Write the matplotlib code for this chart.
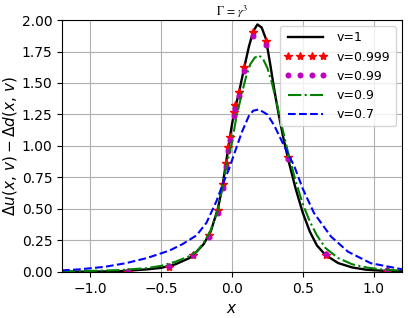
import matplotlib
matplotlib.use("Agg")
import matplotlib.pyplot as plt
from matplotlib.ticker import FormatStrFormatter

# v = 1 (solid black)
x_v1 = [-1.2, -1.0, -0.8, -0.6, -0.5, -0.4, -0.3, -0.25, -0.2, -0.15, -0.1, -0.07, -0.04, -0.02, 0.0,
        0.02, 0.04, 0.06, 0.09, 0.12, 0.15, 0.18, 0.21, 0.24, 0.27, 0.3, 0.33, 0.36, 0.4, 0.45, 0.5,
        0.55, 0.6, 0.66, 0.75, 0.85, 0.95, 1.05, 1.2]
y_v1 = [0.001, 0.002, 0.005, 0.02, 0.032, 0.06, 0.11, 0.16, 0.22, 0.32, 0.50, 0.66, 0.88, 1.03, 1.17,
        1.29, 1.38, 1.48, 1.64, 1.79, 1.91, 1.965, 1.94, 1.85, 1.65, 1.44, 1.25, 1.08, 0.88, 0.66, 0.47,
        0.32, 0.21, 0.135, 0.07, 0.035, 0.017, 0.01, 0.004]

# v = 0.999 (red stars) and v = 0.99 (magenta dots)
x_pts = [-0.733, -0.446, -0.275, -0.162, -0.098, -0.064, -0.043, -0.026, -0.014, 0.012, 0.025,
         0.053, 0.088, 0.147, 0.242, 0.396, 0.662, 1.096]
y_v0999 = [0.003, 0.042, 0.135, 0.294, 0.492, 0.70, 0.865, 0.99, 1.074, 1.27, 1.325,
           1.43, 1.63, 1.907, 1.837, 0.915, 0.135, 0.01]
y_v099 = [0.004, 0.045, 0.138, 0.28, 0.47, 0.67, 0.835, 0.96, 1.045, 1.235, 1.29,
          1.395, 1.595, 1.87, 1.80, 0.90, 0.14, 0.012]

# v = 0.9 (green dash-dot)
x_v09 = [-1.2, -1.0, -0.8, -0.6, -0.5, -0.4, -0.3, -0.25, -0.2, -0.15, -0.1, -0.07, -0.04, 0.0,
         0.03, 0.07, 0.1, 0.13, 0.16, 0.19, 0.22, 0.25, 0.28, 0.31, 0.35, 0.4, 0.45, 0.5, 0.55,
         0.6, 0.66, 0.75, 0.85, 0.95, 1.05, 1.2]
y_v09 = [0.005, 0.008, 0.014, 0.03, 0.048, 0.08, 0.125, 0.16, 0.23, 0.33, 0.49, 0.66, 0.84, 1.03,
         1.22, 1.42, 1.55, 1.65, 1.70, 1.72, 1.69, 1.62, 1.51, 1.37, 1.17, 0.93, 0.72, 0.54, 0.40,
         0.29, 0.19, 0.11, 0.06, 0.035, 0.02, 0.01]

# v = 0.7 (blue dashed)
x_v07 = [-1.2, -1.08, -0.9, -0.75, -0.6, -0.44, -0.35, -0.25, -0.18, -0.11, -0.06, -0.02, 0.02,
         0.07, 0.12, 0.15, 0.19, 0.25, 0.3, 0.36, 0.44, 0.5, 0.58, 0.7, 0.82, 0.98, 1.2]
y_v07 = [0.012, 0.02, 0.04, 0.069, 0.11, 0.17, 0.22, 0.29, 0.39, 0.56, 0.71, 0.82, 0.95,
         1.11, 1.24, 1.28, 1.29, 1.25, 1.16, 1.02, 0.84, 0.66, 0.466, 0.28, 0.16, 0.069, 0.021]

plt.rcParams['mathtext.fontset'] = 'dejavusans'

fig = plt.figure(figsize=(4.08, 3.18), dpi=100)
ax = fig.add_axes([0.152, 0.145, 0.833, 0.792])

ax.plot(x_v1, y_v1, color='k', lw=1.7, label='v=1')
ax.plot(x_pts, y_v0999, 'r*', ms=6, label='v=0.999')
ax.plot(x_pts, y_v099, 'mo', ms=3.3, label='v=0.99')
ax.plot(x_v09, y_v09, color='g', ls='-.', lw=1.5, label='v=0.9')
ax.plot(x_v07, y_v07, color='b', ls='--', lw=1.5, label='v=0.7')

ax.set_xlim(-1.2, 1.2)
ax.set_ylim(0, 2.0)
ax.set_yticks([0, 0.25, 0.5, 0.75, 1.0, 1.25, 1.5, 1.75, 2.0])
ax.yaxis.set_major_formatter(FormatStrFormatter('%.2f'))
ax.set_xticks([-1.0, -0.5, 0.0, 0.5, 1.0])
ax.tick_params(labelsize=10)
ax.grid(True, color='#b0b0b0', lw=0.8)

ax.set_xlabel(r'$x$', fontsize=11)
ax.set_ylabel(r'$\Delta u(x,\,v)-\Delta d(x,\,v)$', fontsize=11, labelpad=2)
ax.set_title(r'$\Gamma\,=\,\gamma^3$', fontsize=8.5, math_fontfamily='stix', pad=3)

ax.legend(loc='upper right', fontsize=9, numpoints=4, handlelength=3.4)

fig.savefig('out.png', dpi=100)
